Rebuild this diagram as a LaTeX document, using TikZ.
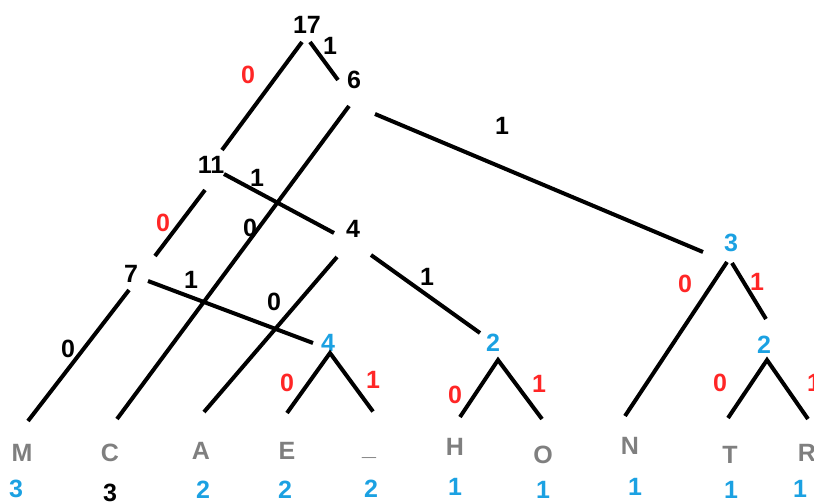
\documentclass[tikz,border=0pt]{standalone}
\usepackage{fontspec}
\setmainfont{Liberation Sans}
\usetikzlibrary{calc}
\definecolor{huffblue}{HTML}{1BA1E2}
\definecolor{huffred}{HTML}{FF2626}
\definecolor{huffgray}{HTML}{7F7F7F}

\begin{document}
\begin{tikzpicture}[x=1pt, y=-1pt,
  num/.style={font=\fontsize{25}{28}\selectfont\bfseries, inner sep=0pt},
  bnum/.style={num, text=huffblue},
  leaf/.style={num, text=huffgray},
  rbit/.style={num, text=huffred},
  kbit/.style={num},
  link/.style={line width=4pt, line join=miter}
]
  \useasboundingbox (0, 0) rectangle (814, 503);

  % Inner nodes
  \node[num] (n17) at (307, 25) {17};
  \node[num] (n6) at (354, 80) {6};
  \node[num] (n11) at (211, 165) {11};
  \node[num] (n4) at (353, 229) {4};
  \node[bnum] (n3) at (731, 243) {3};
  \node[num] (n7) at (131, 274) {7};
  \node[bnum] (n4b) at (328, 343) {4};
  \node[bnum] (n2a) at (493, 343) {2};
  \node[bnum] (n2b) at (764, 345) {2};

  % Leaves
  \node[leaf] (lm) at (22, 453) {M};
  \node[leaf] (lc) at (110, 453) {C};
  \node[leaf] (la) at (201, 451) {A};
  \node[leaf] (le) at (287, 451) {E};
  \node[leaf, anchor=base] (lsp) at (369, 455) {\_};
  \node[leaf] (lh) at (455, 447) {H};
  \node[leaf] (lo) at (543, 455) {O};
  \node[leaf] (ln) at (630, 446) {N};
  \node[leaf] (lt) at (730, 455) {T};
  \node[leaf] (lr) at (807, 453) {R};

  % Counts
  \node[bnum] (cm) at (16, 489) {3};
  \node[num] (cc) at (110, 493) {3};
  \node[bnum] (ca) at (203, 490) {2};
  \node[bnum] (ce) at (285, 490) {2};
  \node[bnum] (csp) at (371, 489) {2};
  \node[bnum] (ch) at (455, 487) {1};
  \node[bnum] (co) at (543, 490) {1};
  \node[bnum] (cn) at (635, 487) {1};
  \node[bnum] (ct) at (731, 490) {1};
  \node[bnum] (cr) at (800, 489) {1};

  % Edges
  \draw[link] ($(n17)+(-5, 17)$) -- ($(n11)+(11, -15)$);
  \draw[link] ($(n17)+(3, 17)$) -- ($(n6)+(-16, 0)$);
  \draw[link] ($(n6)+(-5, 26)$) -- ($(lc)+(7, -34)$);
  \draw[link] ($(n6)+(21, 34)$) -- ($(n3)+(-28, 9)$);
  \draw[link] ($(n11)+(13, 9)$) -- ($(n4)+(-19, 4)$);
  \draw[link] ($(n11)+(-6, 25)$) -- ($(n7)+(24, -18)$);
  \draw[link] ($(n4)+(-16, 28)$) -- ($(la)+(3, -39)$);
  \draw[link] ($(n4)+(18, 26)$) -- ($(n2a)+(-13, -10)$);
  \draw[link] ($(n7)+(-2, 16)$) -- ($(lm)+(6, -32)$);
  \draw[link] ($(n7)+(17, 7)$) -- ($(n4b)+(-15, 0)$);
  \draw[link] ($(le)+(0, -38)$) -- ($(n4b)+(2, 10)$) -- ($(lsp)+(4, -45)$);
  \draw[link] ($(lh)+(5, -30)$) -- ($(n2a)+(5, 17)$) -- ($(lo)+(-1, -36)$);
  \draw[link] ($(n3)+(-4, 19)$) -- ($(ln)+(-5, -30)$);
  \draw[link] ($(n3)+(1, 20)$) -- ($(n2b)+(2, -26)$);
  \draw[link] ($(lt)+(-2, -37)$) -- ($(n2b)+(3, 15)$) -- ($(lr)+(1, -34)$);

  % Bit labels
  \node[rbit] (b1) at (248, 75) {0};
  \node[kbit] (b2) at (330, 46) {1};
  \node[kbit] (b3) at (502, 126) {1};
  \node[kbit] (b4) at (257, 178) {1};
  \node[rbit] (b5) at (163, 223) {0};
  \node[kbit] (b6) at (250, 228) {0};
  \node[kbit] (b7) at (191, 280) {1};
  \node[kbit] (b8) at (274, 302) {0};
  \node[kbit] (b9) at (427, 277) {1};
  \node[kbit] (b10) at (68, 349) {0};
  \node[rbit] (b11) at (287, 383) {0};
  \node[rbit] (b12) at (373, 380) {1};
  \node[rbit] (b13) at (455, 395) {0};
  \node[rbit] (b14) at (539, 384) {1};
  \node[rbit] (b15) at (685, 284) {0};
  \node[rbit] (b16) at (757, 282) {1};
  \node[rbit] (b17) at (720, 383) {0};
  \node[rbit] (b18) at (814, 383) {1};
\end{tikzpicture}
\end{document}
